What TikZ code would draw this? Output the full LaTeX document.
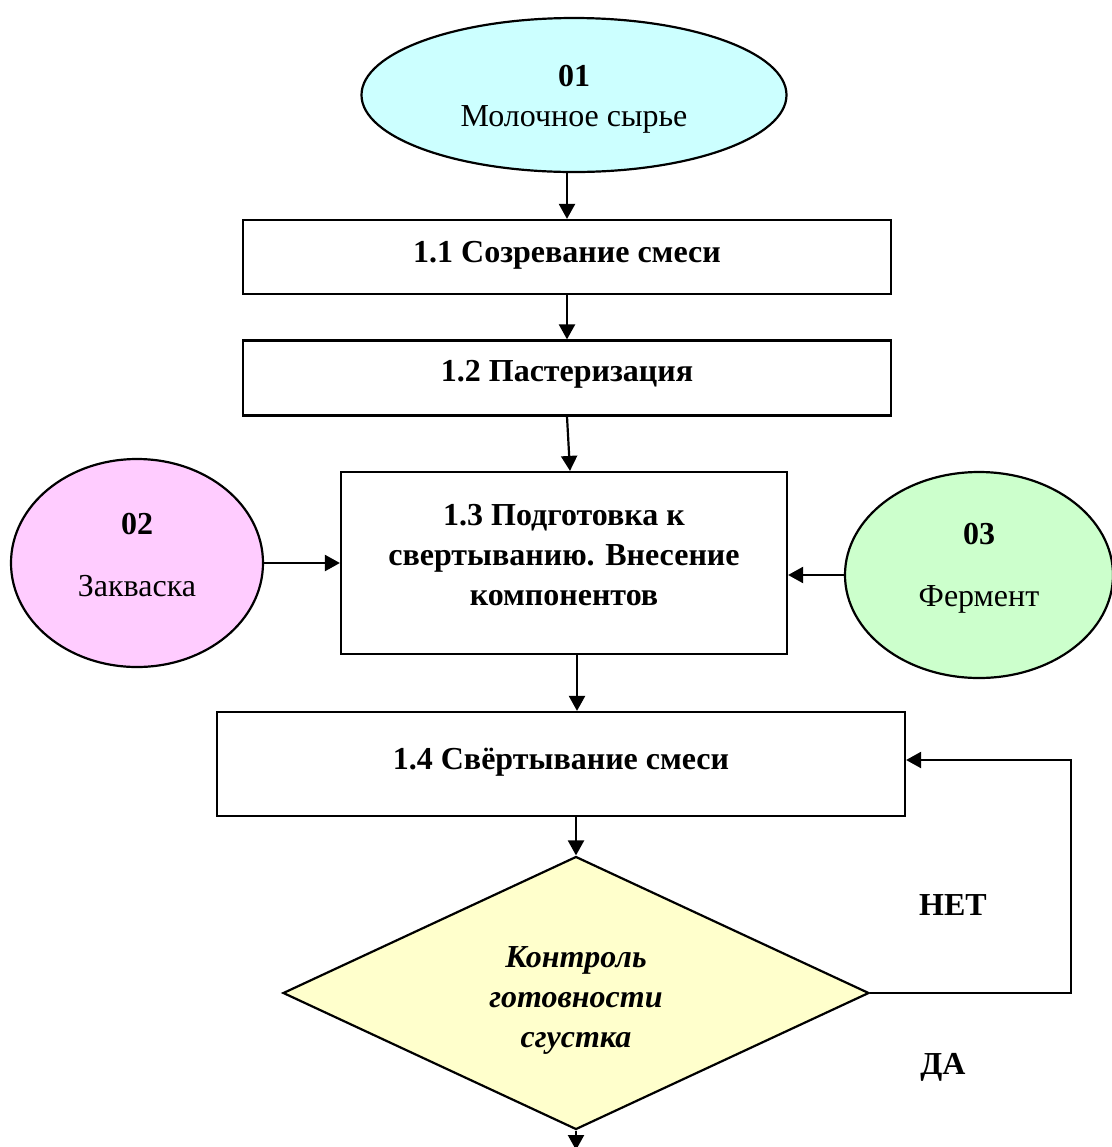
\documentclass[tikz,border=0pt]{standalone}
\usepackage{fontspec}
\setmainfont{Liberation Serif}
\usetikzlibrary{shapes.geometric, arrows.meta, positioning, calc}
\definecolor{rawcyan}{RGB}{204, 255, 255}
\definecolor{starterpink}{RGB}{255, 204, 255}
\definecolor{enzymegreen}{RGB}{204, 255, 204}
\definecolor{checkyellow}{RGB}{255, 255, 204}
\newcommand{\dropby}[1]{\rule[-#1]{0pt}{#1}}
\newcommand{\raiseby}[1]{\rule{0pt}{#1}}
\tikzset{
  >=Triangle,
  flowarrow/.style={-{Triangle[length=7.5pt, width=8pt]}, line width=1.1pt, black},
  stepbox/.style={draw, line width=1.1pt, rectangle, inner sep=0pt, align=center, font=\fontsize{16}{20}\selectfont\bfseries},
  source/.style={draw, line width=1.1pt, ellipse, inner sep=0pt, align=center, font=\fontsize{16}{20}\selectfont}
}
\begin{document}
\begin{tikzpicture}[x=0.5pt, y=-0.5pt]
    \useasboundingbox (0,0) rectangle (1112,1147);

    % --- RAW MATERIAL ---
    \node[source, fill=rawcyan, minimum width=212.5pt, minimum height=77pt] (e01) at (574,95) {\raiseby{15pt}\textbf{01}\\Молочное сырье};

    % --- PROCESS STEPS 1.1 - 1.2 ---
    \node[stepbox, minimum width=324pt, minimum height=37pt] (b11) at (567,257) {1.1 Созревание смеси\dropby{5.5pt}};
    \node[stepbox, minimum width=324pt, minimum height=37.5pt] (b12) at (567,378) {1.2 Пастеризация\dropby{7.5pt}};

    % --- STEP 1.3 WITH INPUTS ---
    \node[stepbox, minimum width=223pt, minimum height=91pt] (b13) at (564,563) {1.3 Подготовка к\\свертыванию. Внесение\\компонентов\dropby{8.2pt}};
    \node[source, fill=starterpink, minimum width=126pt, minimum height=104pt] (e02) at (137,563) {\textbf{02}\\[11pt]Закваска\dropby{7.7pt}};
    \node[source, fill=enzymegreen, minimum width=134pt, minimum height=103pt] (e03) at (979,575) {\textbf{03}\\[11pt]Фермент\dropby{10pt}};

    % --- STEP 1.4 AND CONTROL ---
    \node[stepbox, minimum width=344pt, minimum height=52pt] (b14) at (561,764) {1.4 Свёртывание смеси\dropby{5.2pt}};
    \node[diamond, draw, line width=1.1pt, fill=checkyellow, inner sep=0pt, shape aspect=2.15,
          minimum width=293pt, minimum height=136.5pt, align=center,
          font=\fontsize{16}{20}\selectfont\bfseries\itshape] (dia) at (576,993) {\raiseby{17.6pt}Контроль\\готовности\\сгустка};
    \node[font=\fontsize{16}{20}\selectfont\bfseries] (no) at (953,905) {НЕТ};
    \node[font=\fontsize{16}{20}\selectfont\bfseries] (yes) at (943,1067) {ДА};
    \coordinate (loop) at (1071,760);
    \coordinate (exit) at (576,1150);

    % Arrows
    \draw[flowarrow] (b11.north |- e01.south) -- (b11.north);
    \draw[flowarrow] (b11.south) -- (b12.north);
    \draw[flowarrow] (b12.south) -- ([xshift=3pt]b13.north);
    \draw[flowarrow] (e02.east) -- (e02.east -| b13.west);
    \draw[flowarrow] (e03.west) -- (e03.west -| b13.east);
    \draw[flowarrow] ([xshift=6.5pt]b13.south) -- ([xshift=6.5pt]b13.south |- b14.north);
    \draw[flowarrow] (b14.south -| dia.north) -- (dia.north);
    \draw[flowarrow] (dia.east) -| (loop) -- (b14.east |- loop);
    \draw[flowarrow] (dia.south) -- (exit);
\end{tikzpicture}
\end{document}
